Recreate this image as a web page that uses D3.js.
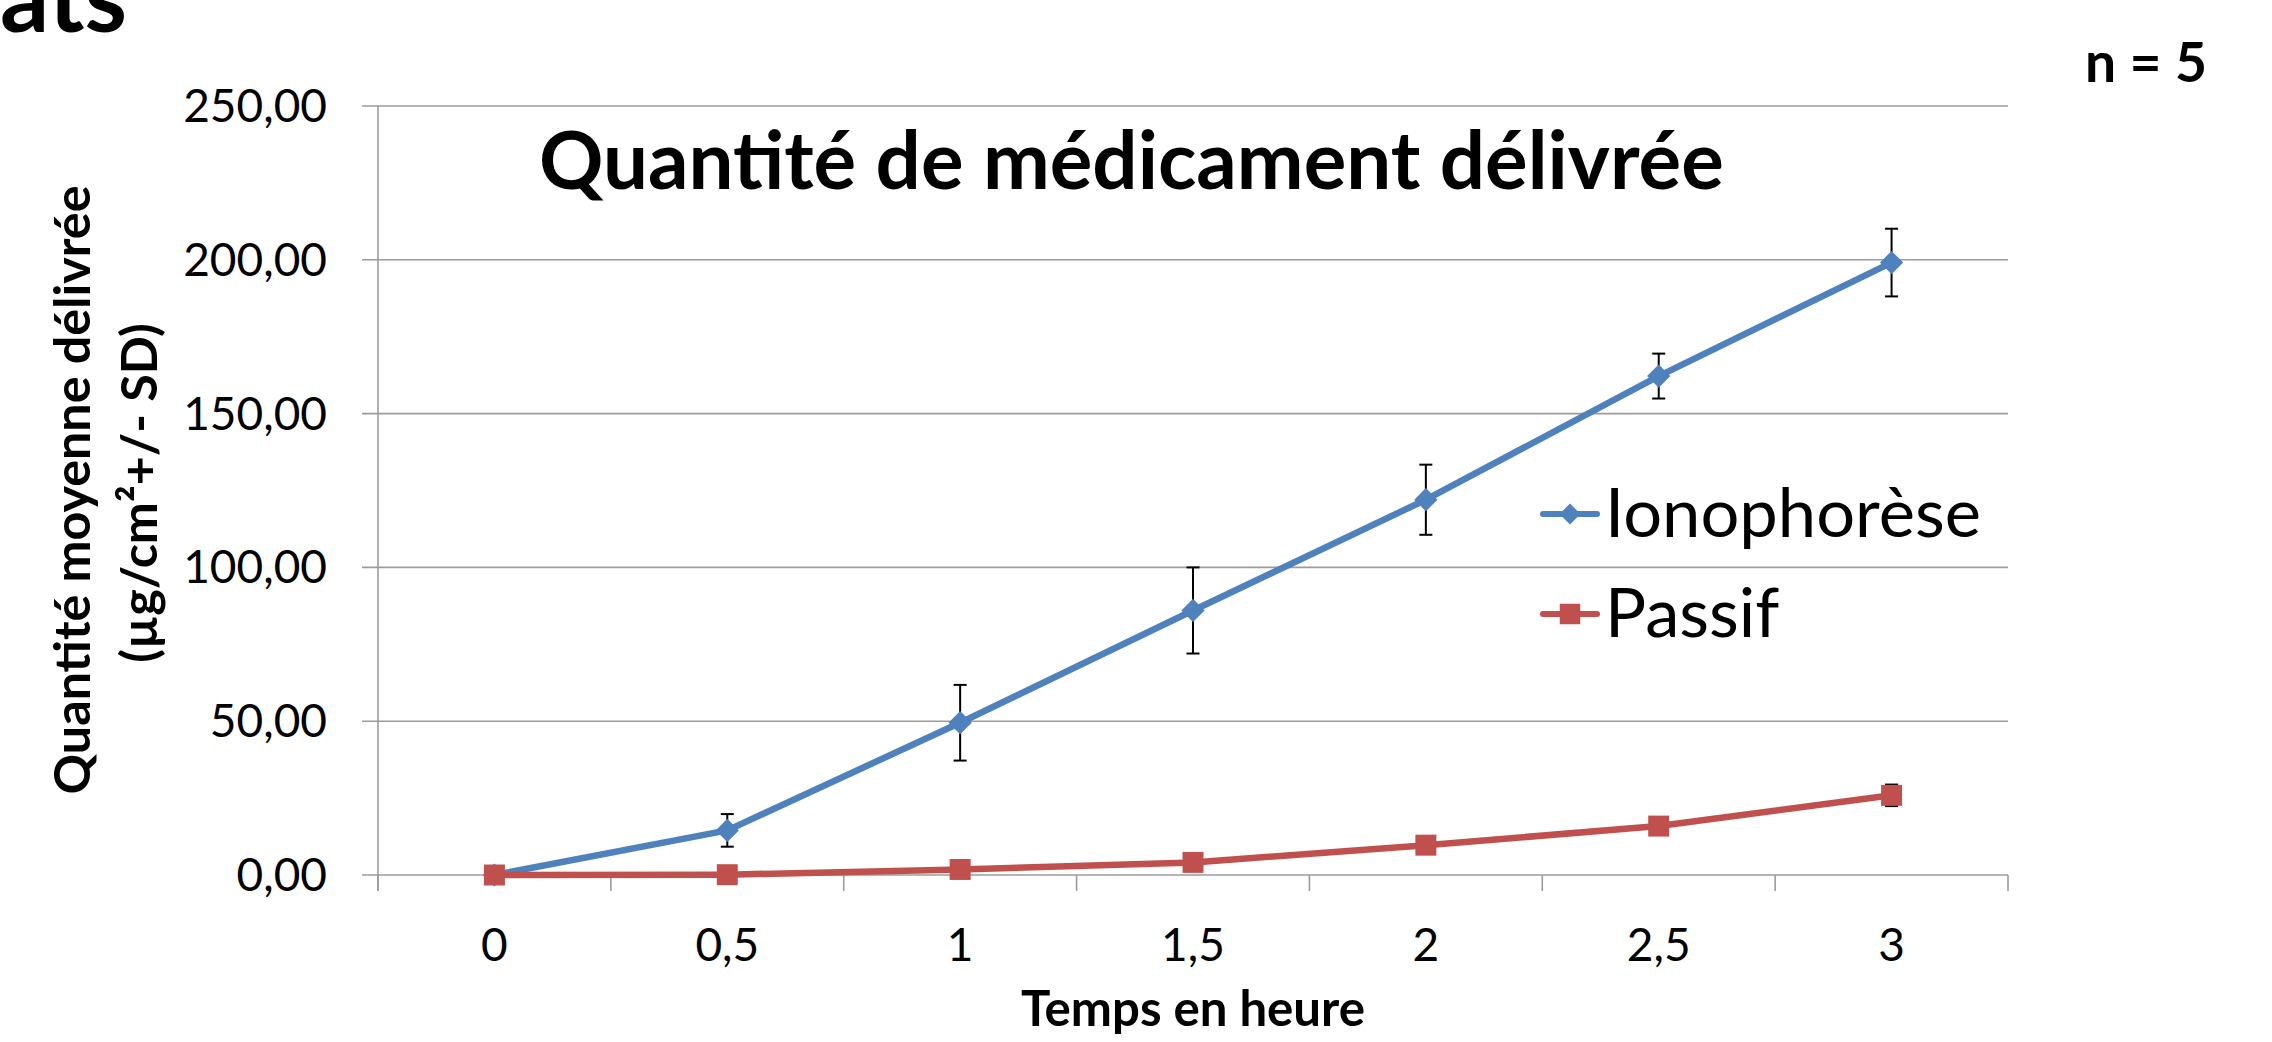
<!DOCTYPE html>
<html>
<head>
<meta charset="utf-8">
<script src="https://cdn.jsdelivr.net/npm/d3@7"></script>
<style>
  html, body { margin: 0; padding: 0; background: #fff; overflow: hidden; }
  svg { display: block; }
  text { font-family: Lato, "Open Sans", "Noto Sans", sans-serif; fill: #000; }
</style>
</head>
<body>
<svg id="chart" width="2272" height="1042"></svg>
<script>
// ---- data ----
const categories = ["0", "0,5", "1", "1,5", "2", "2,5", "3"];
const ionoValues = [0, 14.5, 49.5, 86.0, 122.0, 162.2, 199.1];
const ionoSD     = [0, 5.3, 12.3, 14.0, 11.4, 7.3, 11.0];
const passifValues = [0, 0.1, 1.8, 4.1, 9.7, 15.9, 25.9];
const passifSD     = [0, 0.3, 0.6, 1.0, 1.5, 2.0, 3.5];
const yTicks = [0, 50, 100, 150, 200, 250];
const seriesNames = ["Ionophorèse", "Passif"];
const chartTitle = "Quantité de médicament délivrée";
const xTitle = "Temps en heure";
const yTitleLines = ["Quantité moyenne délivrée", "(µg/cm²+/- SD)"];
const noteText = "n = 5";
const headingText = "ats";

// ---- layout ----
const svg = d3.select("#chart");
const pL = 378, pR = 2008, pT = 106, pB = 875;
const blue = "#4f81bd", red = "#c0504d", grid = "#9c9c9c";

const fr = d3.formatLocale({decimal: ",", thousands: " ", grouping: [3], currency: ["", "€"]});
const fmt = fr.format(".2f");

const xBand = d3.scaleBand().domain(categories).range([pL, pR]);
const x = d3.scalePoint().domain(categories).range([pL, pR]).padding(0.5);
const y = d3.scaleLinear().domain([0, 250]).range([pB, pT]);

function fitWidth(sel, target) {
  const w = sel.node().getComputedTextLength();
  const fs = parseFloat(sel.style("font-size"));
  sel.style("font-size", (fs * target / w) + "px");
  return fs * target / w;
}

// gridlines (extend left as tick marks)
svg.append("g").selectAll("line").data(yTicks).join("line")
  .attr("x1", pL - 16).attr("x2", pR)
  .attr("y1", d => y(d)).attr("y2", d => y(d))
  .attr("stroke", grid).attr("stroke-width", 1.6);

// y-axis line
svg.append("line").attr("x1", pL).attr("x2", pL).attr("y1", pT).attr("y2", pB + 16)
  .attr("stroke", grid).attr("stroke-width", 1.6);

// y tick labels
svg.append("g").selectAll("text").data(yTicks).join("text")
  .attr("x", 327).attr("y", d => y(d) + 16)
  .attr("text-anchor", "end")
  .style("font-size", "46px")
  .text(d => fmt(d));

// x axis ticks at band boundaries
const bounds = categories.map(c => xBand(c)).concat([pR]);
svg.append("g").selectAll("line").data(bounds).join("line")
  .attr("x1", d => d).attr("x2", d => d).attr("y1", pB).attr("y2", pB + 16)
  .attr("stroke", grid).attr("stroke-width", 1.6);

// x tick labels
svg.append("g").selectAll("text").data(categories).join("text")
  .attr("x", d => x(d)).attr("y", 961)
  .attr("text-anchor", "middle")
  .style("font-size", "46px")
  .text(d => d);

// series
const series = [
  {name: seriesNames[0], values: ionoValues, sd: ionoSD, color: blue, shape: "diamond"},
  {name: seriesNames[1], values: passifValues, sd: passifSD, color: red, shape: "square"}
];
const line = d3.line().x(d => x(d.c)).y(d => y(d.v));

series.forEach(s => {
  const pts = categories.map((c, i) => ({c, v: s.values[i], sd: s.sd[i]}));
  const g = svg.append("g");
  g.append("path").datum(pts).attr("d", line)
    .attr("fill", "none").attr("stroke", s.color).attr("stroke-width", 6.5)
    .attr("stroke-linejoin", "round").attr("stroke-linecap", "round");
  const eb = g.append("g").selectAll("g").data(pts.filter(p => p.sd > 0)).join("g");
  eb.append("line").attr("x1", d => x(d.c)).attr("x2", d => x(d.c))
    .attr("y1", d => y(d.v + d.sd)).attr("y2", d => y(d.v - d.sd))
    .attr("stroke", "#000").attr("stroke-width", 2);
  eb.append("line").attr("x1", d => x(d.c) - 6.5).attr("x2", d => x(d.c) + 6.5)
    .attr("y1", d => y(d.v + d.sd)).attr("y2", d => y(d.v + d.sd))
    .attr("stroke", "#000").attr("stroke-width", 2);
  eb.append("line").attr("x1", d => x(d.c) - 6.5).attr("x2", d => x(d.c) + 6.5)
    .attr("y1", d => y(d.v - d.sd)).attr("y2", d => y(d.v - d.sd))
    .attr("stroke", "#000").attr("stroke-width", 2);
  const sym = s.shape === "diamond"
    ? d3.symbol().type(d3.symbolSquare).size(270)
    : d3.symbol().type(d3.symbolSquare).size(440);
  g.append("g").selectAll("path").data(pts).join("path")
    .attr("d", sym)
    .attr("transform", d => `translate(${x(d.c)},${y(d.v)})` + (s.shape === "diamond" ? " rotate(45)" : ""))
    .attr("fill", s.color);
});

// legend
const legY = [514, 614];
let legendFs = null;
series.forEach((s, i) => {
  const g = svg.append("g");
  g.append("line").attr("x1", 1543).attr("x2", 1597).attr("y1", legY[i]).attr("y2", legY[i])
    .attr("stroke", s.color).attr("stroke-width", 6).attr("stroke-linecap", "round");
  const sym = s.shape === "diamond"
    ? d3.symbol().type(d3.symbolSquare).size(220)
    : d3.symbol().type(d3.symbolSquare).size(420);
  g.append("path").attr("d", sym)
    .attr("transform", `translate(1570,${legY[i]})` + (s.shape === "diamond" ? " rotate(45)" : ""))
    .attr("fill", s.color);
  const t = g.append("text").attr("x", 1605).attr("y", legY[i] + 23)
    .style("font-size", (legendFs || 64) + "px").text(s.name);
  if (i === 0) legendFs = fitWidth(t, 376);
});

// chart title
const tt = svg.append("text").attr("x", 539).attr("y", 189)
  .style("font-size", "80px").style("font-weight", "bold").text(chartTitle);
fitWidth(tt, 1185);

// x title
const xt = svg.append("text").attr("x", 1193).attr("y", 1026).attr("text-anchor", "middle")
  .style("font-size", "44px").style("font-weight", "bold").text(xTitle);
fitWidth(xt, 344);

// y title
const yt1 = svg.append("text").attr("transform", "translate(90,490) rotate(-90)").attr("text-anchor", "middle")
  .style("font-size", "44px").style("font-weight", "bold").text(yTitleLines[0]);
const yfs = fitWidth(yt1, 609);
svg.append("text").attr("transform", "translate(157,493) rotate(-90)").attr("text-anchor", "middle")
  .style("font-size", yfs + "px").style("font-weight", "bold").text(yTitleLines[1]);

// n = 5
const nt = svg.append("text").attr("x", 2085).attr("y", 82)
  .style("font-size", "56px").style("font-weight", "bold").text(noteText);
fitWidth(nt, 122);

// heading fragment top-left (cut at the top edge, as in the reference)
const ht = svg.append("text").attr("x", 127).attr("y", 32).attr("text-anchor", "end")
  .style("font-size", "96px").style("font-weight", "bold").text(headingText);
fitWidth(ht, 127);
</script>
</body>
</html>
